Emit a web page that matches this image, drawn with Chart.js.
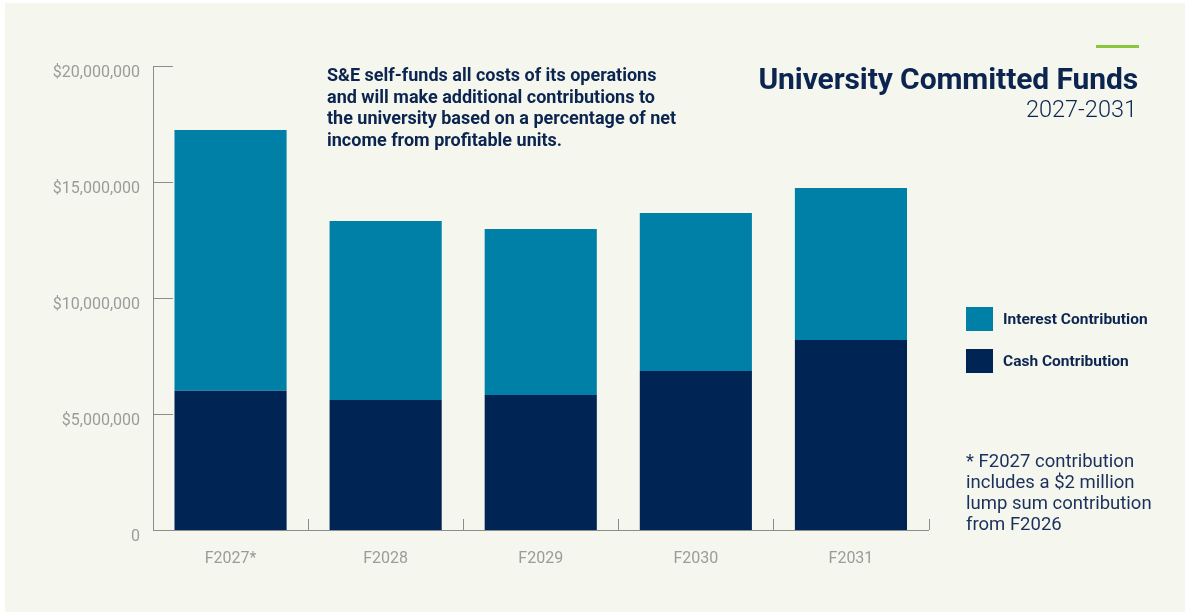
<!DOCTYPE html>
<html>
<head>
<meta charset="utf-8">
<script src="https://cdn.jsdelivr.net/npm/chart.js@4"></script>
<style>
body { margin: 0; background: #ffffff; }
#wrap { position: relative; width: 1185px; height: 615px; overflow: hidden; }
#bg { position: absolute; left: 5px; top: 3px; right: 0; bottom: 3px; background: #f5f7ee; }
#myChart { position: absolute; left: 0; top: 0; }
.navy { color: #0b2450; }
#note { position: absolute; left: 327px; top: 64px; font: bold 18px Roboto, sans-serif; line-height: 21.5px; }
#title { position: absolute; right: 47px; top: 61px; font: bold 30px Roboto, sans-serif; line-height: 36px; letter-spacing: -0.1px; text-align: right; }
#sub { position: absolute; right: 48px; top: 95px; font: 300 23.5px Roboto, sans-serif; line-height: 28px; text-align: right; }
#green { position: absolute; left: 1096px; top: 45px; width: 43px; height: 3px; background: #8cc63f; }
#legend { position: absolute; left: 966px; top: 307px; }
.item { display: flex; align-items: center; height: 24px; margin-bottom: 18px; font: bold 15.5px Roboto, sans-serif; }
.box { width: 27px; height: 24px; margin-right: 10px; }
#foot { position: absolute; left: 966px; top: 451px; font: 18.5px Roboto, sans-serif; line-height: 21px; color: #1a2f5c; }
</style>
</head>
<body>
<div id="wrap">
  <div id="bg"></div>
  <canvas id="myChart" width="1185" height="615"></canvas>
  <div id="note" class="navy">S&amp;E self-funds all costs of its operations<br>and will make additional contributions to<br>the university based on a percentage of net<br>income from profitable units.</div>
  <div id="green"></div>
  <div id="title" class="navy">University Committed Funds</div>
  <div id="sub" class="navy">2027-2031</div>
  <div id="legend"></div>
  <div id="foot">* F2027 contribution<br>includes a $2 million<br>lump sum contribution<br>from F2026</div>
</div>
<script>
var labels = ['F2027*', 'F2028', 'F2029', 'F2030', 'F2031'];
var cash = [6000000, 5600000, 5820000, 6850000, 8190000];
var interest = [11240000, 7720000, 7150000, 6810000, 6550000];
var yTicks = [0, 5000000, 10000000, 15000000, 20000000];

var axisGray = '#8c8c8c';
var labelGray = '#9b9b9b';

// small tick marks pointing into the plot
var tickMarks = {
    id: 'tickMarks',
    afterDraw: function(chart) {
        var ctx = chart.ctx;
        var xs = chart.scales.x;
        var ys = chart.scales.y;
        var a = chart.chartArea;
        ctx.save();
        ctx.strokeStyle = axisGray;
        ctx.lineWidth = 1;
        ys.ticks.forEach(function(t) {
            if (t.value === 0) return;
            var py = Math.round(ys.getPixelForValue(t.value)) + 0.5;
            ctx.beginPath();
            ctx.moveTo(a.left, py);
            ctx.lineTo(a.left + 20, py);
            ctx.stroke();
        });
        var step = xs.getPixelForValue(1) - xs.getPixelForValue(0);
        for (var i = 1; i <= labels.length; i++) {
            var px = Math.round(xs.getPixelForValue(i - 1) + step / 2) + 0.5;
            ctx.beginPath();
            ctx.moveTo(px, a.bottom);
            ctx.lineTo(px, a.bottom - 11);
            ctx.stroke();
        }
        ctx.restore();
    }
};

var ctx = document.getElementById('myChart').getContext('2d');
var myChart = new Chart(ctx, {
    type: 'bar',
    data: {
        labels: labels,
        datasets: [{
            label: 'Cash Contribution',
            data: cash,
            backgroundColor: '#002454',
            barPercentage: 0.723,
            categoryPercentage: 1
        }, {
            label: 'Interest Contribution',
            data: interest,
            backgroundColor: '#0080a7',
            barPercentage: 0.723,
            categoryPercentage: 1
        }]
    },
    options: {
        responsive: false,
        animation: false,
        layout: { padding: { left: 0, right: 256.5, top: 66, bottom: 0 } },
        plugins: { legend: { display: false }, tooltip: { enabled: false } },
        scales: {
            x: {
                stacked: true,
                offset: true,
                grid: { display: false, drawTicks: false },
                border: { color: axisGray },
                ticks: { color: labelGray, font: { family: 'Roboto', size: 16 }, padding: 19 },
                afterFit: function(s) { s.height = 85; }
            },
            y: {
                stacked: true,
                min: 0,
                max: 20000000,
                afterBuildTicks: function(s) { s.ticks = yTicks.map(function(v) { return { value: v }; }); },
                grid: { display: false, drawTicks: false },
                border: { color: axisGray },
                ticks: {
                    color: labelGray,
                    font: { family: 'Roboto', size: 16 },
                    padding: 13,
                    labelOffset: 7,
                    callback: function(v) { return v === 0 ? '0' : '$' + v.toLocaleString('en-US'); }
                },
                afterFit: function(s) { s.width = 153; }
            }
        }
    },
    plugins: [tickMarks]
});

// legend built from the datasets, interest on top
var leg = document.getElementById('legend');
myChart.data.datasets.slice().reverse().forEach(function(ds) {
    var it = document.createElement('div');
    it.className = 'item navy';
    it.innerHTML = '<span class="box" style="background:' + ds.backgroundColor + '"></span>' + ds.label;
    leg.appendChild(it);
});
</script>
</body>
</html>
